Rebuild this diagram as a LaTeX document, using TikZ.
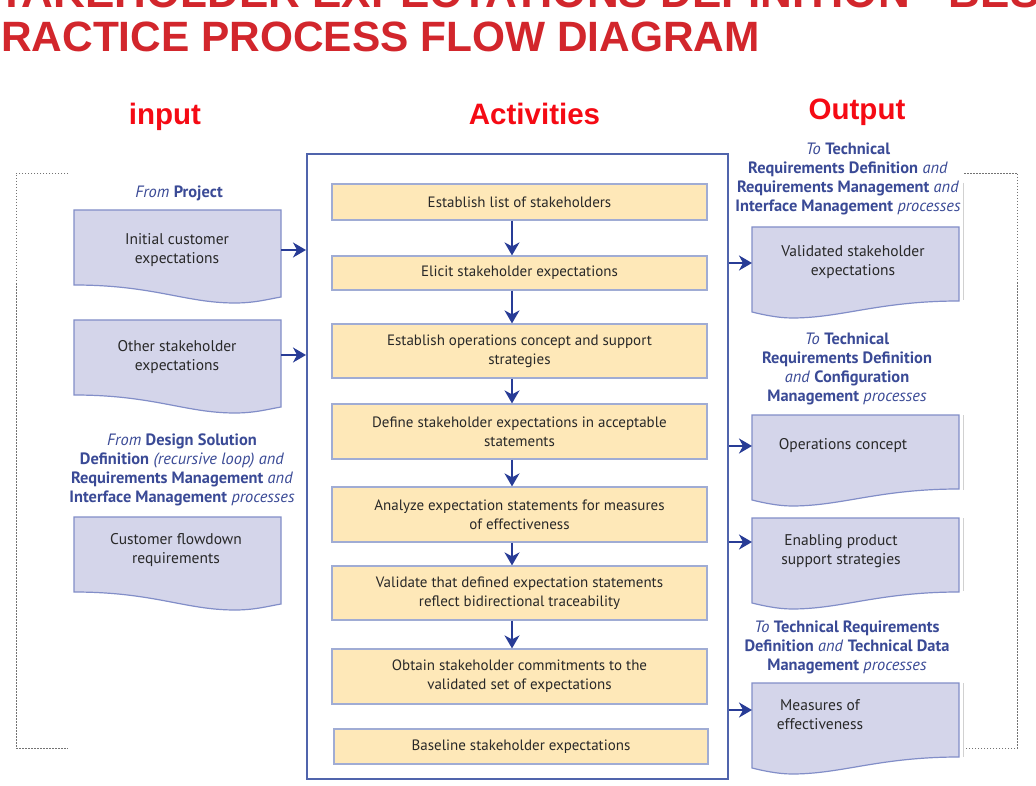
\documentclass[tikz,border=0pt]{standalone}
\usepackage{fontspec}
\setmainfont{PT Sans}
\newfontfamily\titlefont{Liberation Sans}
\usetikzlibrary{arrows.meta,calc}
\definecolor{titlered}{RGB}{210,38,44}
\definecolor{headred}{RGB}{245,10,20}
\definecolor{lblue}{RGB}{58,74,150}
\definecolor{docfill}{RGB}{212,213,234}
\definecolor{docline}{RGB}{130,142,200}
\definecolor{boxfill}{RGB}{254,232,184}
\definecolor{boxline}{RGB}{160,172,212}
\definecolor{framec}{RGB}{80,100,172}
\definecolor{arrowc}{RGB}{40,60,150}
\definecolor{txt}{RGB}{40,40,40}
\tikzset{
  actbox/.style={draw=boxline, fill=boxfill, line width=1.2pt, minimum width=375pt, align=center,
    font=\fontsize{15}{19}\selectfont, text=txt, inner sep=0pt},
  docbox/.style={minimum width=207pt, inner sep=0pt, outer sep=0pt},
  docshape/.style={draw=docline, fill=docfill, line width=1.2pt},
  doctxt/.style={align=center, font=\fontsize{15.5}{19}\selectfont, text=txt, inner sep=0pt},
  lbl/.style={align=center, font=\fontsize{16.4}{19}\selectfont, text=lblue, inner sep=0pt},
  arr/.style={draw=arrowc, line width=1.8pt, -{Stealth[length=13pt,width=15pt,inset=4pt]}},
  head/.style={font=\titlefont\bfseries\fontsize{29.5}{30}\selectfont, text=headred, anchor=base, inner sep=0pt},
  ttl/.style={font=\titlefont\bfseries, text=titlered, anchor=base west, inner sep=0pt},
  dotfr/.style={draw=black!55, line width=0.6pt, dash pattern=on 1.5pt off 1.5pt},
  faint/.style={draw=black!18, line width=0.6pt},
}
\newcommand{\docL}[1]{%
  \path[docshape] (#1.north west) -- (#1.north east) -- ($(#1.south east)+(0,12)$)
    .. controls +(-12,2) and +(20,0) .. ($(#1.south west)+(161,18)$)
    .. controls +(-50,0) and +(80,0) .. (#1.south west) -- cycle;}
\newcommand{\docR}[1]{%
  \path[docshape] (#1.north west) -- (#1.north east) -- (#1.south east)
    .. controls +(-80,0) and +(50,0) .. ($(#1.south west)+(40,17)$)
    .. controls +(-15,0) and +(8,2) .. ($(#1.south west)+(0,11)$) -- cycle;}
\begin{document}
\begin{tikzpicture}[x=1pt,y=-1pt]
\useasboundingbox (0,0) rectangle (1036,786);
\clip (0,0) rectangle (1036,786);
\fill[white] (0,0) rectangle (1036,786);

% title
\node[ttl, font=\titlefont\bfseries\fontsize{44}{44}\selectfont] (t1) at (-31.5,8) {STAKEHOLDER EXPECTATIONS DEFINITION - BEST};
\node[ttl, font=\titlefont\bfseries\fontsize{42.4}{42.4}\selectfont] (t2) at (-27.3,51.5) {PRACTICE PROCESS FLOW DIAGRAM};

% headers
\node[head] (hin) at (165,125) {input};
\node[head] (hact) at (534.5,125) {Activities};
\node[head] (hout) at (857,120) {Output};

% dotted frame pieces
\draw[dotfr] (68,173) -- (16,173) -- (16,748) -- (68,748);
\draw[dotfr] (964,173) -- (1017,173) -- (1017,748) -- (964,748);

% big activities box
\node[draw=framec, fill=white, line width=2pt, minimum width=421pt, minimum height=625pt, inner sep=0pt] (box) at (517.5,466.5) {};

% activity boxes
\node[actbox, minimum height=36pt] (b1) at (519.5,202) {Establish list of stakeholders};
\node[actbox, minimum height=34pt] (b2) at (519.5,273) {Elicit stakeholder expectations};
\node[actbox, minimum height=54pt] (b3) at (519.5,351) {Establish operations concept and support\\strategies};
\node[actbox, minimum height=55pt] (b4) at (519.5,431.5) {Define stakeholder expectations in acceptable\\statements};
\node[actbox, minimum height=55pt] (b5) at (519.5,514.5) {Analyze expectation statements for measures\\of effectiveness};
\node[actbox, minimum height=54pt] (b6) at (519.5,593) {Validate that defined expectation statements\\reflect bidirectional traceability};
\node[actbox, minimum height=55pt] (b7) at (519.5,676.5) {Obtain stakeholder commitments to the\\validated set of expectations};
\node[actbox, minimum height=35pt, minimum width=374pt] (b8) at (521,746.5) {Baseline stakeholder expectations};

\foreach \a/\b in {b1/b2,b2/b3,b3/b4,b4/b5,b5/b6,b6/b7}
  \draw[arr] (512,0 |- \a.south) -- (512,0 |- \b.north);

% left documents
\node[docbox, minimum height=75pt] (d1) at (177.5,247.5) {};
\node[docbox, minimum height=75pt] (d2) at (177.5,357.5) {};
\node[docbox, minimum height=75pt] (d3) at (177.5,554.5) {};
\docL{d1}\docL{d2}\docL{d3}
\node[doctxt] (d1t) at (177,250.5) {Initial customer\\expectations};
\node[doctxt] (d2t) at (177,357.5) {Other stakeholder\\expectations};
\node[doctxt] (d3t) at (176,550.5) {Customer flowdown\\requirements};

\node[lbl] (lp) at (179,193) {\textit{From} \textbf{Project}};
\node[lbl] (ld) at (182,470) {\textit{From} \textbf{Design Solution}\\\textbf{Definition} \textit{(recursive loop) and}\\\textbf{Requirements Management} \textit{and}\\\textbf{Interface Management} \textit{processes}};

\draw[arr] (d1.east |- 0,250) -- (box.west |- 0,250);
\draw[arr] (d2.east |- 0,355) -- (box.west |- 0,355);

% right documents
\node[docbox, minimum height=74pt] (r1) at (855.5,264) {};
\node[docbox, minimum height=74pt] (r2) at (855.5,452) {};
\node[docbox, minimum height=74pt] (r3) at (855.5,555) {};
\node[docbox, minimum height=74pt] (r4) at (855.5,720) {};
\docR{r1}\docR{r2}\docR{r3}\docR{r4}
\draw[faint] (963,183) -- (963,300);
\draw[faint] (963,415) -- (963,490);
\draw[faint] (963,518) -- (963,591);
\draw[faint] (963,683) -- (963,757);

\node[doctxt] (r1t) at (853,262.5) {Validated stakeholder\\expectations};
\node[doctxt] (r2t) at (843,446) {Operations concept};
\node[doctxt] (r3t) at (841,551.5) {Enabling product\\support strategies};
\node[doctxt] (r4t) at (820,714.5) {Measures of\\effectiveness};

\node[lbl] (lr1) at (848,178.5) {\textit{To} \textbf{Technical}\\\textbf{Requirements Definition} \textit{and}\\\textbf{Requirements Management} \textit{and}\\\textbf{Interface Management} \textit{processes}};
\node[lbl] (lr2) at (847,369) {\textit{To} \textbf{Technical}\\\textbf{Requirements Definition}\\\textit{and} \textbf{Configuration}\\\textbf{Management} \textit{processes}};
\node[lbl] (lr4) at (847,647) {\textit{To} \textbf{Technical Requirements}\\\textbf{Definition} \textit{and} \textbf{Technical Data}\\\textbf{Management} \textit{processes}};

\draw[arr] (box.east |- 0,263) -- (r1.west |- 0,263);
\draw[arr] (box.east |- 0,446) -- (r2.west |- 0,446);
\draw[arr] (box.east |- 0,542) -- (r3.west |- 0,542);
\draw[arr] (box.east |- 0,710) -- (r4.west |- 0,710);
\end{tikzpicture}
\end{document}
